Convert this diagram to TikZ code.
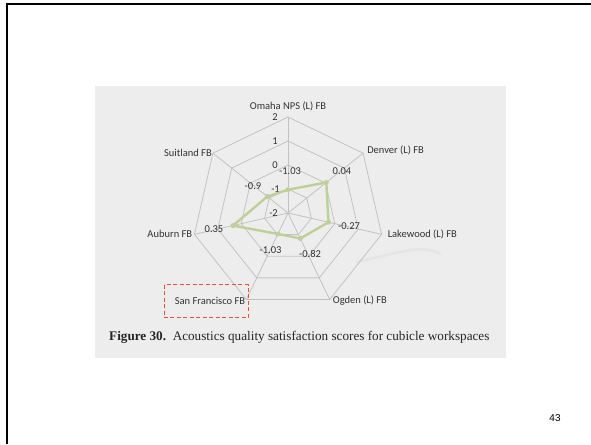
\documentclass[tikz,border=0pt]{standalone}
\usepackage{fontspec}
\setmainfont{Liberation Serif}
\newfontfamily\chartfont{Carlito}
\newfontfamily\slidefont{Liberation Sans}
\usetikzlibrary{positioning,shapes.geometric}

\definecolor{chartbg}{HTML}{EEEDED}
\definecolor{gridgray}{HTML}{C2C2C6}
\definecolor{linegreen}{HTML}{BDD096}
\definecolor{boxred}{HTML}{F0502A}

\begin{document}
\begin{tikzpicture}[x=1pt,y=1pt,
% node styles
ring/.style={regular polygon, regular polygon sides=7, draw=gridgray, line width=0.8pt, inner sep=0pt, outer sep=0pt},
axlbl/.style={font=\chartfont\fontsize{10.5}{12}\selectfont, text=black!80, inner sep=1pt},
vallbl/.style={font=\chartfont\fontsize{10.5}{12}\selectfont, text=black!80, inner sep=0pt},
dot/.style={circle, fill=linegreen, inner sep=0pt, minimum size=5pt}
]
\useasboundingbox (0,0) rectangle (591,444);

% slide frame
\draw[line width=2pt] (6,439.5) -- (591,439.5);
\draw[line width=2pt] (7,440.5) -- (7,0);

% scanned figure background
\fill[chartbg] (95,86) rectangle (506,358);
\draw[white!80!gray, line width=2.5pt, line cap=round] (357,182) .. controls (400,192) and (425,200) .. (440,190);

\begin{scope}[shift={(288,231)}]
% grid rings
\node[ring, minimum size=48pt] (ring_m1) at (0,0) {};
\node[ring, minimum size=96pt] (ring_0) at (0,0) {};
\node[ring, minimum size=144pt] (ring_1) at (0,0) {};
\node[ring, minimum size=192pt] (ring_2) at (0,0) {};
\coordinate (c) at (0,0);

% spokes
\foreach \k in {1,...,7}
  \draw[gridgray, line width=0.8pt] (c) -- (ring_2.corner \k);

% tick labels
\node[vallbl, anchor=east] (tick_2) at ([xshift=-10pt]ring_2.corner 1) {2};
\node[vallbl, anchor=east] (tick_1) at ([xshift=-10pt]ring_1.corner 1) {1};
\node[vallbl, anchor=east] (tick_0) at ([xshift=-10pt]ring_0.corner 1) {0};
\node[vallbl, anchor=east] (tick_m1) at ([xshift=-8pt]ring_m1.corner 1) {-1};
\node[vallbl, anchor=east] (tick_m2) at ([xshift=-10pt]c) {-2};

% axis labels
\node[axlbl, anchor=south] (ax_omaha) at ([yshift=5pt]ring_2.corner 1) {Omaha NPS (L) FB};
\node[axlbl, anchor=east] (ax_suitland) at (ring_2.corner 2) {Suitland FB};
\node[axlbl, anchor=east] (ax_auburn) at ([xshift=-1pt]ring_2.corner 3) {Auburn FB};
\node[axlbl, anchor=east] (ax_sf) at ([yshift=-1pt]ring_2.corner 4) {San Francisco FB};
\node[axlbl, anchor=west] (ax_ogden) at ([xshift=2pt,yshift=-1pt]ring_2.corner 5) {Ogden (L) FB};
\node[axlbl, anchor=west] (ax_lakewood) at ([xshift=5pt]ring_2.corner 6) {Lakewood (L) FB};
\node[axlbl, anchor=west] (ax_denver) at ([xshift=3pt,yshift=3pt]ring_2.corner 7) {Denver (L) FB};

% data points
\coordinate (p_omaha) at (90:23.3);
\coordinate (p_denver) at (38.57:49);
\coordinate (p_lakewood) at (-12.86:41.5);
\coordinate (p_ogden) at (-64.29:28.3);
\coordinate (p_sf) at (-115.71:23.3);
\coordinate (p_auburn) at (-167.14:56.4);
\coordinate (p_suitland) at (141.43:26.4);

\draw[linegreen, line width=2.4pt, line join=round] (p_omaha) -- (p_denver) -- (p_lakewood) -- (p_ogden) -- (p_sf) -- (p_auburn) -- (p_suitland) -- cycle;
\foreach \p in {p_omaha,p_denver,p_lakewood,p_ogden,p_sf,p_auburn,p_suitland}
  \node[dot] at (\p) {};

% value labels
\node[vallbl] (val_omaha) at (2,42) {-1.03};
\node[vallbl] (val_denver) at (54,42) {0.04};
\node[vallbl] (val_lakewood) at (61,-13) {-0.27};
\node[vallbl] (val_ogden) at (22,-41) {-0.82};
\node[vallbl] (val_sf) at (-17.5,-37) {-1.03};
\node[vallbl] (val_auburn) at (-74,-16) {0.35};
\node[vallbl] (val_suitland) at (-35,27) {-0.9};
\end{scope}

% highlight box
\draw[boxred, line width=1pt, dash pattern=on 4pt off 2.5pt] (164,159) rectangle (248,126);

% caption
\node[anchor=west, inner sep=0pt, font=\fontsize{13.2}{15}\selectfont, text=black!85] (caption) at (109,107)
  {\textbf{Figure 30.}\ \ Acoustics quality satisfaction scores for cubicle workspaces};

% page number
\node[font=\slidefont\fontsize{10}{11}\selectfont] (pagenum) at (555,26) {43};
\end{tikzpicture}
\end{document}
